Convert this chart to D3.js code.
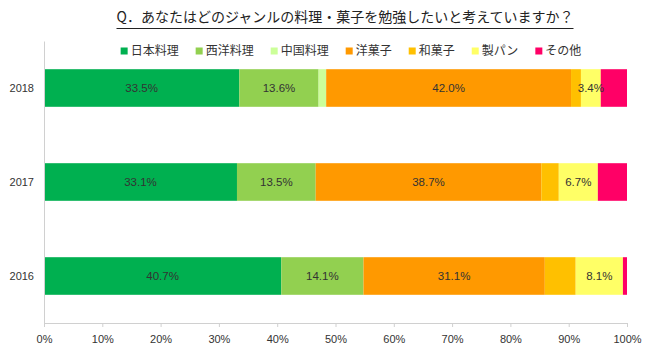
<!DOCTYPE html>
<html>
<head>
<meta charset="utf-8">
<script src="https://cdn.jsdelivr.net/npm/d3@7"></script>
<style>
  html, body { margin: 0; padding: 0; background: #fff; }
  svg { display: block; }
</style>
</head>
<body>
<svg id="chart" width="650" height="347"></svg>
<script>
// Survey years (top to bottom) and the genres in stacking order
const years = ["2018", "2017", "2016"];
const genres = ["日本料理", "西洋料理", "中国料理", "洋菓子", "和菓子", "製パン", "その他"];
const genreColors = ["#00B050", "#92D050", "#CCFF99", "#FF9900", "#FFC000", "#FFFF66", "#FF0066"];

// Share (%) per genre, one array per genre, ordered like `years`
const japanese  = [33.5, 33.1, 40.7];
const western   = [13.6, 13.5, 14.1];
const chinese   = [1.3, 0.0, 0.0];
const pastry    = [42.0, 38.7, 31.1];
const wagashi   = [1.7, 3.0, 5.3];
const bread     = [3.4, 6.7, 8.1];
const other     = [4.5, 5.0, 0.7];

// Genres whose segments carry a value label
const labelled = ["日本料理", "西洋料理", "洋菓子", "製パン"];

const xTicks = [0, 10, 20, 30, 40, 50, 60, 70, 80, 90, 100];
const title = "Q．あなたはどのジャンルの料理・菓子を勉強したいと考えていますか？";

const seriesValues = [japanese, western, chinese, pastry, wagashi, bread, other];
const rows = years.map((yr, i) => {
  const r = { year: yr };
  genres.forEach((g, j) => { r[g] = seriesValues[j][i]; });
  return r;
});

const svg = d3.select("#chart");
const font = "'Liberation Sans', Arial, sans-serif";

const x = d3.scaleLinear().domain([0, 100]).range([44, 627]);
const y = d3.scaleBand().domain(years).range([41, 323]).paddingInner(0.6).paddingOuter(0.3);
const color = d3.scaleOrdinal().domain(genres).range(genreColors);

const stacked = d3.stack().keys(genres)(rows);

// Title with underline
const titleText = svg.append("text")
  .attr("x", 345).attr("y", 22)
  .attr("text-anchor", "middle")
  .attr("font-family", "'Noto Sans CJK JP', sans-serif")
  .attr("font-size", 14)
  .attr("fill", "#222")
  .text(title);
const tb = titleText.node().getBBox();
svg.append("line")
  .attr("x1", tb.x).attr("x2", tb.x + tb.width)
  .attr("y1", 28.5).attr("y2", 28.5)
  .attr("stroke", "#222").attr("stroke-width", 1);

// Legend
const legend = svg.append("g").attr("class", "legend");
const legendGap = 17;
let lx = 0;
genres.forEach((g) => {
  const item = legend.append("g").attr("transform", `translate(${lx},0)`);
  item.append("rect").attr("x", 0).attr("y", -7.5).attr("width", 7).attr("height", 7).attr("fill", color(g));
  const t = item.append("text")
    .attr("x", 10).attr("y", 0)
    .attr("font-family", "'Noto Sans CJK JP', sans-serif")
    .attr("font-size", 12).attr("fill", "#333")
    .text(g);
  lx += 10 + t.node().getComputedTextLength() + legendGap;
});
const legendWidth = lx - legendGap;
legend.attr("transform", `translate(${351 - legendWidth / 2},55)`);

// Stacked bars
const layer = svg.append("g").selectAll("g")
  .data(stacked).join("g")
  .attr("fill", d => color(d.key));
layer.selectAll("rect")
  .data(d => d.map(v => ({ key: d.key, v })))
  .join("rect")
  .attr("x", d => x(d.v[0]))
  .attr("y", d => y(d.v.data.year))
  .attr("width", d => x(d.v[1]) - x(d.v[0]))
  .attr("height", y.bandwidth());

// Value labels
const labelLayer = svg.append("g")
  .attr("font-family", font).attr("font-size", 11.5).attr("fill", "#333")
  .attr("text-anchor", "middle");
stacked.filter(s => labelled.includes(s.key)).forEach(s => {
  s.forEach(v => {
    const val = v.data[s.key];
    labelLayer.append("text")
      .attr("x", (x(v[0]) + x(v[1])) / 2)
      .attr("y", y(v.data.year) + y.bandwidth() / 2)
      .attr("dy", "0.35em")
      .text(val.toFixed(1) + "%");
  });
});

// Category axis
const yAxis = svg.append("g")
  .attr("transform", `translate(${x(0)},0)`)
  .call(d3.axisLeft(y).tickSize(0).tickPadding(10));
yAxis.select(".domain").attr("stroke", "#d0d0d0");
yAxis.selectAll("text").attr("font-family", font).attr("font-size", 11).attr("fill", "#333");

// Value axis
const xAxis = svg.append("g")
  .attr("transform", `translate(0,${y.range()[1]})`)
  .call(d3.axisBottom(x).tickValues(xTicks).tickSize(4).tickSizeOuter(0).tickPadding(8).tickFormat(d => d + "%"));
xAxis.select(".domain").attr("stroke", "#d0d0d0");
xAxis.selectAll(".tick line").attr("stroke", "#d0d0d0");
xAxis.selectAll("text").attr("font-family", font).attr("font-size", 11).attr("fill", "#333");
</script>
</body>
</html>
